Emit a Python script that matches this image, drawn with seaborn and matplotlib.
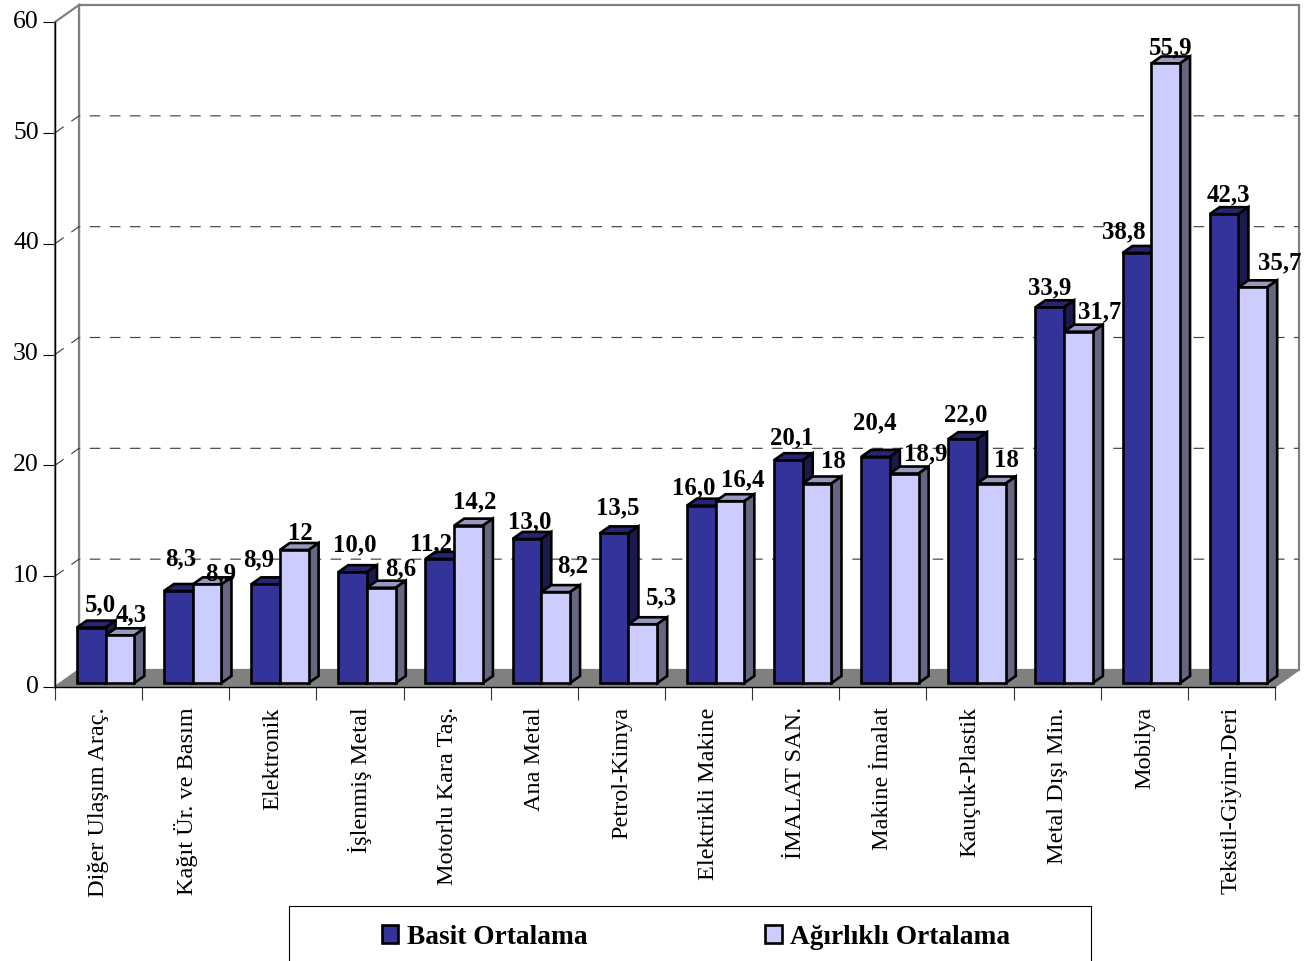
import pandas as pd
import seaborn as sns
import matplotlib
matplotlib.use("Agg")
import matplotlib.pyplot as plt
from matplotlib.patches import Polygon, Rectangle
from matplotlib.transforms import ScaledTranslation

categories = ["Diğer Ulaşım Araç.", "Kağıt Ür. ve Basım", "Elektronik", "İşlenmiş Metal",
              "Motorlu Kara Taş.", "Ana Metal", "Petrol-Kimya", "Elektrikli Makine",
              "İMALAT SAN.", "Makine İmalat", "Kauçuk-Plastik", "Metal Dışı Min.",
              "Mobilya", "Tekstil-Giyim-Deri"]
basit = [5.0, 8.3, 8.9, 10.0, 11.2, 13.0, 13.5, 16.0, 20.1, 20.4, 22.0, 33.9, 38.8, 42.3]
agirlikli = [4.3, 8.9, 12.0, 8.6, 14.2, 8.2, 5.3, 16.4, 18.0, 18.9, 18.0, 31.7, 55.9, 35.7]
basit_labels = ["5,0", "8,3", "8,9", "10,0", "11,2", "13,0", "13,5", "16,0", "20,1", "20,4",
                "22,0", "33,9", "38,8", "42,3"]
agirlikli_labels = ["4,3", "8,9", "12", "8,6", "14,2", "8,2", "5,3", "16,4", "18", "18,9",
                    "18", "31,7", "55,9", "35,7"]

# etiketlerin elle kaydirilmis konumlari (piksel)
basit_nudge = [(9, 23), (2, 32), (-7, 25), (2, 27), (-9, 15), (3, 17), (4, 26), (-7, 18),
               (3, 22), (-1, 34), (3, 24), (0, 19), (-13, 21), (4, 19)]
agirlikli_nudge = [(11, 21), (14, 11), (6, 17), (19, 19), (6, 24), (17, 26), (19, 26), (13, 21),
                   (16, 22), (21, 20), (15, 23), (21, 20), (5, 16), (27, 25)]

W, H = 1306, 961
LEFT, RIGHT, BOTTOM, TOP = 55, 1275, 687, 22

sns.set_theme(style="white")
plt.rcParams["font.family"] = ["Liberation Serif", "DejaVu Serif"]

df = pd.DataFrame({
    "kategori": categories * 2,
    "seri": ["Basit Ortalama"] * len(categories) + ["Ağırlıklı Ortalama"] * len(categories),
    "deger": basit + agirlikli,
})
front = {"Basit Ortalama": "#333399", "Ağırlıklı Ortalama": "#CCCCFF"}
top_face = ["#262673", "#9999BF"]
side_face = ["#1A1A4D", "#666680"]

fig = plt.figure(figsize=(W / 100, H / 100), dpi=100, facecolor="white")
ax = fig.add_axes([LEFT / W, 1 - BOTTOM / H, (RIGHT - LEFT) / W, (BOTTOM - TOP) / H])
sns.barplot(data=df, x="kategori", y="deger", hue="seri", palette=front, width=0.66, gap=0,
            saturation=1, edgecolor="black", linewidth=1.9, zorder=5, ax=ax)
n = len(categories)
ax.set_xlim(-0.5, n - 0.5)
ax.set_ylim(0, 60)
px_x = n / (RIGHT - LEFT)
px_y = 60 / (BOTTOM - TOP)

# arka duvar, yan duvar ve taban
wx, wy = 24 * px_x, 17 * px_y
x0, x1 = -0.5, n - 0.5
grey = "#808080"
ax.add_patch(Polygon([(x0 + wx, wy), (x1 + wx, wy), (x1 + wx, 60 + wy), (x0 + wx, 60 + wy)],
                     closed=True, fc="white", ec=grey, lw=1.6, clip_on=False, zorder=1))
ax.add_patch(Polygon([(x0, 0), (x0 + wx, wy), (x0 + wx, 60 + wy), (x0, 60)],
                     closed=True, fc="white", ec=grey, lw=1.6, clip_on=False, zorder=1.1))
ax.add_patch(Polygon([(x0, 0), (x1, 0), (x1 + wx, wy), (x0 + wx, wy)],
                     closed=True, fc=grey, ec=grey, lw=1, clip_on=False, zorder=1.2))
for v in range(10, 60, 10):
    ax.plot([x0, x0 + wx, x1 + wx], [v, v + wy, v + wy], color="#444444", lw=0.85,
            dashes=(9, 8), clip_on=False, zorder=1.5)

# cubuklara derinlik ekle
dx, dy = 10 * px_x, 7 * px_y
sx, sy = 7 * px_x, 4 * px_y
all_labels = [basit_labels, agirlikli_labels]
all_nudges = [basit_nudge, agirlikli_nudge]
for s, container in enumerate(ax.containers):
    for i, bar in enumerate(container.patches):
        bar.set_x(bar.get_x() + sx)
        bar.set_y(sy)
        bar.set_clip_on(False)
        z = 5 + i + s * 0.3
        bar.set_zorder(z)
        a, b = bar.get_x(), bar.get_x() + bar.get_width()
        h = bar.get_y() + bar.get_height()
        ax.add_patch(Polygon([(a, h), (b, h), (b + dx, h + dy), (a + dx, h + dy)], closed=True,
                             fc=top_face[s], ec="black", lw=1.9, clip_on=False, zorder=z - 0.1))
        ax.add_patch(Polygon([(b, sy), (b + dx, sy + dy), (b + dx, h + dy), (b, h)], closed=True,
                             fc=side_face[s], ec="black", lw=1.9, clip_on=False, zorder=z - 0.1))
        nx, ny = all_nudges[s][i]
        ax.annotate(all_labels[s][i], (a + (b - a) / 2, h), xytext=(nx, ny),
                    textcoords="offset pixels", ha="center", va="center", fontsize=17.8,
                    fontweight="bold", color="black", zorder=40, annotation_clip=False)

# eksenler
sns.despine(ax=ax)
for side in ["left", "bottom"]:
    ax.spines[side].set_color("black")
    ax.spines[side].set_linewidth(1)
    ax.spines[side].set_zorder(3)
ax.set_xlabel("")
ax.set_ylabel("")
ax.set_yticks(range(0, 70, 10))
ax.tick_params(axis="y", left=True, length=8.6, width=0.8, color="black", labelsize=18.5, pad=3,
               labelcolor="black")
up = ScaledTranslation(0, 2 / 72, fig.dpi_scale_trans)
for lab in ax.get_yticklabels():
    lab.set_transform(lab.get_transform() + up)
ax.set_xticks(range(n))
ax.set_xticklabels(categories, rotation=90, ha="center", va="top", fontsize=17.5)
ax.set_xticks([i - 0.5 for i in range(n + 1)], minor=True)
ax.tick_params(axis="x", which="major", bottom=False, length=0, pad=14.5, labelcolor="black")
ax.tick_params(axis="x", which="minor", bottom=True, length=9.4, width=0.8, color="#333333")

# lejant kutusu
fig.add_artist(Rectangle((289 / W, -0.02), (1091 - 289) / W, 1 - 906 / H + 0.02,
                         transform=fig.transFigure, fc="white", ec="black", lw=0.8))
handles, labels = ax.get_legend_handles_labels()
ax.get_legend().remove()
fig.legend(handles, labels, ncols=2, frameon=False, loc="center left",
           bbox_to_anchor=(382 / W, 1 - 937 / H), borderpad=0, borderaxespad=0,
           prop={"weight": "bold", "size": 19.7}, handlelength=0.6, handleheight=0.6,
           handletextpad=0.3, columnspacing=6.5, labelcolor="black")

fig.savefig("out.png", dpi=100)
